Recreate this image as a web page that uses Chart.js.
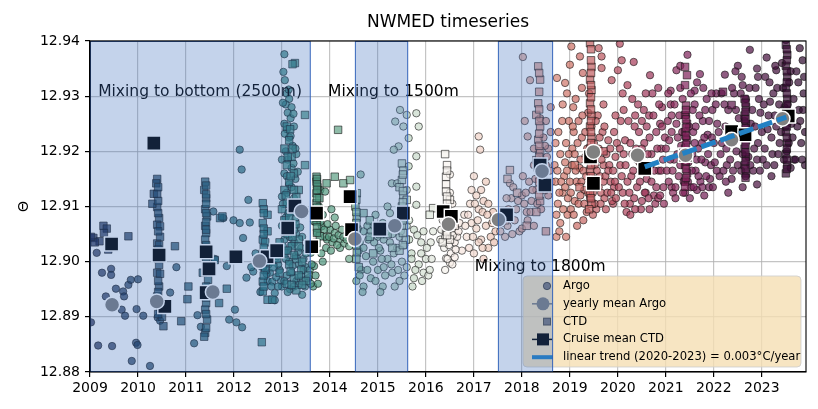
<!DOCTYPE html>
<html>
<head>
<meta charset="utf-8">
<script src="https://cdn.jsdelivr.net/npm/chart.js@4.4.1/dist/chart.umd.min.js"></script>
<style>
  html, body { margin: 0; padding: 0; background: #fff; }
  #chart { display: block; }
</style>
</head>
<body>
<canvas id="chart" width="818" height="409"></canvas>
<script>
// ---- data: [decimal year, potential temperature] ----
const argo2009_2012 = [
  [2009.02,12.889],[2009.14,12.9016],[2009.25,12.898],[2009.44,12.8987],[2009.44,12.8976],[2009.33,12.8937],
  [2009.54,12.8951],[2009.69,12.8946],[2009.8,12.8958],[2009.85,12.8967],[2010.0,12.8968],[2009.71,12.8937],
  [2009.66,12.8913],[2009.73,12.8902],[2009.97,12.8914],[2009.17,12.8848],[2009.46,12.8847],[2009.96,12.8853],
  [2009.99,12.8849],[2009.87,12.882],[2010.25,12.8811],[2010.11,12.8902],[2010.41,12.8899],[2010.8,12.899],
  [2010.67,12.8944],[2010.46,12.8893],[2011.24,12.8903],[2011.17,12.8852],[2011.31,12.8882],[2011.6,12.9005],
  [2011.85,12.8992],[2011.9,12.8895],[2012.02,12.8913],[2012.05,12.889],[2012.17,12.8881],[2011.57,12.9091],
  [2011.78,12.9079],[2011.99,12.9075],[2012.12,12.907],[2012.19,12.9043],[2012.12,12.9203],[2012.16,12.9167],
  [2012.3,12.9112],[2012.33,12.9071],[2012.4,12.8982],[2012.26,12.8971],[2012.36,12.899],[2012.45,12.9015],
  [2012.6,12.899],[2012.7,12.8965],[2012.55,12.8945],[2012.75,12.898],[2012.85,12.8943],[2012.8,12.8964],
  [2012.9,12.901],[2012.95,12.8985],[2012.98,12.8965],
  [2012.62,12.9005],[2012.72,12.8995],[2012.88,12.8972],[2012.78,12.8955],[2012.68,12.8978],[2012.92,12.8995]
];
const argo2013_2016 = [
  [2013.05,12.9376],[2013.03,12.9344],[2013.06,12.9329],[2013.1,12.9305],[2013.15,12.9295],[2013.08,12.9285],
  [2013.2,12.928],[2013.12,12.927],[2013.18,12.926],[2013.05,12.925],[2013.25,12.9245],[2013.1,12.924],
  [2013.15,12.9225],[2013.22,12.921],[2013.08,12.92],[2013.3,12.9195],[2013.12,12.9185],[2013.2,12.917],
  [2013.05,12.916],[2013.28,12.915],[2013.15,12.914],[2013.1,12.9125],[2013.25,12.9115],[2013.02,12.9105],
  [2013.18,12.9095],[2013.35,12.909],[2013.08,12.908],[2013.22,12.907],[2013.12,12.906],[2013.3,12.905],
  [2013.05,12.904],[2013.2,12.903],[2013.4,12.9025],[2013.1,12.902],[2013.28,12.901],[2013.45,12.9005],
  [2013.15,12.9],[2013.35,12.8995],[2013.5,12.899],[2013.2,12.898],[2013.4,12.8975],[2013.55,12.897],
  [2013.3,12.8965],[2013.0,12.8955],[2013.17,12.895],[2013.48,12.8955],[2012.85,12.893],[2013.42,12.894],
  [2013.65,12.8955],
  [2013.02,12.9288],[2013.14,12.9312],[2013.24,12.9268],[2013.06,12.9232],[2013.18,12.9228],[2013.28,12.9205],
  [2013.0,12.9185],[2013.24,12.9178],[2013.1,12.9155],[2013.33,12.9163],[2013.2,12.9135],[2013.0,12.9118],
  [2013.32,12.9105],[2013.13,12.9088],[2013.28,12.9078],[2013.0,12.9065],[2013.38,12.9062],[2013.16,12.9045],
  [2013.42,12.9045],[2013.26,12.9035],[2013.02,12.9028],[2013.34,12.9018],[2013.5,12.9015],[2013.08,12.9005],
  [2013.22,12.8992],[2013.45,12.8985],[2013.1,12.8975],[2013.58,12.8985],[2013.35,12.8958],[2013.25,12.8955],
  [2013.6,12.896],[2013.12,12.8945],[2012.92,12.8955],[2013.05,12.8965],
  [2013.8,12.913],[2013.9,12.9127],[2013.77,12.91],[2013.67,12.9073],[2013.73,12.9052],[2013.83,12.9064],
  [2014.0,12.9058],[2014.1,12.9052],[2014.21,12.904],[2013.94,12.904],[2013.6,12.9016],[2013.67,12.8992],
  [2014.21,12.9025],[2013.9,12.9045],[2014.05,12.9035],[2014.15,12.903],[2014.3,12.9033],[2014.4,12.9028],
  [2013.95,12.9068],[2013.85,12.9085],[2014.1,12.908],[2014.03,12.9095],[2013.75,12.896],[2013.85,12.9],
  [2014.45,12.9045],
  [2013.7,12.9085],[2013.8,12.9072],[2013.88,12.9058],[2013.98,12.9045],[2014.08,12.9042],[2014.18,12.9048],
  [2014.28,12.9045],[2014.35,12.904],[2014.25,12.9058],[2014.12,12.9065],[2013.92,12.9025],[2013.62,12.8995],
  [2013.7,12.8975],[2013.82,12.9015],[2014.02,12.902],[2014.4,12.9005],
  [2015.46,12.9275],[2015.6,12.9266],[2015.53,12.9245],[2015.36,12.9254],[2015.43,12.9209],[2015.64,12.9224],
  [2015.33,12.9203],[2015.29,12.9142],[2015.4,12.9142],[2015.64,12.9173],[2015.6,12.913],[2014.64,12.9158],
  [2015.2,12.91],[2015.1,12.907],[2014.9,12.9065],[2014.7,12.9055],[2014.8,12.904],[2015.0,12.9045],
  [2015.3,12.905],[2015.45,12.9045],[2015.55,12.908],[2014.6,12.902],[2014.75,12.901],[2014.9,12.9],
  [2015.05,12.902],[2015.2,12.9005],[2015.4,12.9025],[2015.5,12.9],[2014.65,12.8985],[2014.85,12.897],
  [2015.0,12.8985],[2015.15,12.8975],[2015.3,12.898],[2014.55,12.8965],[2014.7,12.8955],[2015.1,12.8955],
  [2015.45,12.8965],[2015.6,12.899],[2014.95,12.9085],[2015.25,12.9088],[2014.58,12.906],
  [2014.55,12.9045],[2014.62,12.9035],[2014.7,12.9025],[2014.78,12.9065],[2014.85,12.9055],[2014.92,12.9035],
  [2015.02,12.9025],[2015.08,12.9005],[2015.12,12.904],[2015.18,12.9055],[2015.25,12.9035],[2015.33,12.9015],
  [2015.38,12.906],[2015.48,12.9055],[2015.55,12.903],[2015.6,12.9065],[2014.62,12.8975],[2014.78,12.8985],
  [2014.95,12.8965],[2015.12,12.899],[2015.28,12.8995],[2015.42,12.8985],[2015.55,12.8975],[2014.68,12.8945],
  [2015.05,12.8945],[2015.35,12.8955],
  [2015.8,12.9269],[2015.85,12.9245],[2015.8,12.9191],[2015.8,12.9136],[2015.8,12.9103],[2015.75,12.9058],
  [2015.9,12.9035],[2015.7,12.9015],[2015.85,12.8995],[2016.0,12.9005],[2015.95,12.898],[2015.75,12.897],
  [2016.05,12.8975],[2015.65,12.904],[2016.1,12.9035],
  [2015.7,12.9005],[2015.78,12.8985],[2015.9,12.9015],[2016.02,12.9025],[2016.12,12.9005],[2015.82,12.9048],
  [2015.95,12.9055],[2016.15,12.9055],[2015.72,12.8955],[2015.92,12.8965],[2016.08,12.8985],[2015.65,12.9075]
];
const argo2016_2019 = [
  [2016.5,12.9158],[2016.42,12.9006],[2016.5,12.8998],[2016.4,12.8985],[2016.35,12.9075],[2016.45,12.905],
  [2016.55,12.906],[2016.6,12.9035],[2016.38,12.9025],[2016.52,12.9015],[2016.65,12.9045],[2016.7,12.907],
  [2016.3,12.904],[2016.58,12.9085],[2016.75,12.902],[2016.85,12.9045],[2016.95,12.907],[2017.05,12.906],
  [2017.15,12.904],[2017.25,12.9065],[2017.35,12.9045],[2016.9,12.9025],[2017.0,12.9015],[2017.1,12.9035],
  [2017.2,12.9005],[2017.3,12.9025],[2017.45,12.9055],[2016.8,12.9085],[2017.1,12.9095],[2017.2,12.911],
  [2017.05,12.912],[2017.0,12.9155],[2017.25,12.9145],[2017.1,12.9227],[2017.13,12.9203],[2017.4,12.909],
  [2016.92,12.9105],
  [2016.32,12.9058],[2016.4,12.9045],[2016.48,12.903],[2016.56,12.9048],[2016.62,12.9022],[2016.68,12.9055],
  [2016.45,12.9095],[2016.55,12.9105],[2016.5,12.9125],[2016.45,12.9005],[2016.55,12.8995],[2016.6,12.9008],
  [2016.82,12.9065],[2016.88,12.9085],[2016.98,12.9045],[2017.08,12.9075],[2017.18,12.909],[2017.28,12.9085],
  [2017.38,12.907],[2017.48,12.9075],[2017.18,12.9025],[2017.42,12.9035],[2017.02,12.9105],[2017.15,12.913],
  [2016.95,12.913],[2017.3,12.9105],
  [2018.02,12.9371],[2018.17,12.9329],[2018.06,12.9255],[2018.12,12.9227],[2017.75,12.9142],[2017.6,12.908],
  [2017.7,12.9065],[2017.85,12.9075],[2017.95,12.9055],[2018.1,12.909],[2018.2,12.911],[2018.3,12.913],
  [2018.0,12.912],[2018.45,12.9155],[2018.55,12.912],[2018.4,12.9095],[2017.65,12.9045],[2017.8,12.905],
  [2018.0,12.906],[2018.25,12.9065],[2018.5,12.9175],[2018.35,12.92],[2018.55,12.9205],[2018.6,12.9235],
  [2018.25,12.9175],[2018.45,12.9225],[2017.55,12.9055],[2018.15,12.9145],
  [2017.58,12.907],[2017.62,12.909],[2017.72,12.9095],[2017.78,12.9115],[2017.88,12.9095],[2017.92,12.911],
  [2018.05,12.9105],[2018.08,12.9125],[2018.12,12.9075],[2018.18,12.909],[2018.22,12.913],[2018.28,12.915],
  [2018.32,12.9105],[2018.42,12.9185],[2018.48,12.921],[2018.52,12.919],[2018.58,12.9165],[2018.62,12.9145],
  [2018.38,12.926],[2018.5,12.9255],[2018.6,12.928],[2018.25,12.9205],[2017.68,12.9115],[2017.82,12.9135],
  [2018.02,12.9155],
  [2019.03,12.939],[2019.0,12.9357],[2019.21,12.9372],[2019.6,12.9387],[2020.04,12.9395],[2019.66,12.9372],
  [2019.66,12.9351],[2019.27,12.9342],[2018.9,12.9324],[2018.73,12.9333],[2019.07,12.928],[2018.94,12.9305],
  [2020.0,12.9347],[2019.87,12.9329],
  [2018.7,12.9145],[2018.75,12.9105],[2018.8,12.907],[2018.85,12.9125],[2018.9,12.918],[2018.95,12.9085],
  [2019.0,12.9145],[2019.05,12.9205],[2019.1,12.911],[2019.15,12.9065],[2019.2,12.917],[2019.25,12.9225],
  [2019.3,12.913],[2019.35,12.909],[2019.4,12.9185],[2019.45,12.9245],[2019.5,12.915],[2019.55,12.9095],
  [2019.6,12.9205],[2019.65,12.9125],[2019.7,12.9175],[2019.75,12.9095],[2019.8,12.922],[2019.85,12.9145],
  [2019.9,12.9105],[2019.95,12.919],[2018.72,12.9045],[2018.8,12.9195],[2018.88,12.9155],[2019.02,12.9095],
  [2019.12,12.9165],[2019.22,12.912],[2019.32,12.919],[2019.42,12.9115],[2019.52,12.9175],[2019.62,12.9155],
  [2019.72,12.9115],[2019.82,12.9175],[2019.92,12.9135],[2019.08,12.9235],[2019.28,12.9075],[2019.48,12.9085],
  [2019.68,12.9235],[2019.88,12.911],[2018.98,12.9255],[2019.38,12.927],[2019.58,12.9265],[2018.78,12.9125],
  [2018.92,12.9045],[2019.18,12.9255],
  [2018.68,12.9175],[2018.7,12.9215],[2018.72,12.9085],[2018.74,12.9165],[2018.76,12.9235],[2018.78,12.9055],
  [2018.82,12.9145],[2018.84,12.9255],[2018.86,12.9095],[2018.9,12.9135],[2018.92,12.9215],[2018.94,12.9165],
  [2018.96,12.9115],[2018.98,12.9195],[2019.02,12.9125],[2019.04,12.9175],[2019.06,12.9245],[2019.08,12.9085],
  [2019.1,12.9195],[2019.14,12.9145],[2019.16,12.9215],[2019.18,12.9105],[2019.22,12.9185],[2019.24,12.9145],
  [2019.26,12.9265],[2019.28,12.9165],[2019.3,12.9105],[2019.32,12.9235],[2019.34,12.9155],[2019.36,12.9205],
  [2019.38,12.9125],[2019.48,12.9125],[2019.5,12.9215],[2019.52,12.9105],[2019.54,12.9255],[2019.56,12.9165],
  [2019.58,12.9195],[2019.6,12.9135],[2019.62,12.9225],[2019.64,12.9105],[2019.66,12.9185],[2019.7,12.9145],
  [2019.72,12.9245],[2019.74,12.9155],[2019.76,12.9195],[2019.78,12.9125],[2019.8,12.9165],[2019.84,12.9205],
  [2019.86,12.9125],[2019.9,12.9165],[2019.92,12.9235],[2019.94,12.9145],[2019.96,12.9115],[2019.98,12.9215],
  [2018.85,12.9285],[2019.12,12.9295],[2019.4,12.9305],[2019.7,12.9285],[2019.95,12.9265],[2019.25,12.9315]
];
const argo2020_2023 = [
  [2020.08,12.9365],[2020.33,12.9362],[2020.67,12.9338],
  [2020.05,12.9175],[2020.1,12.9125],[2020.15,12.922],[2020.2,12.9145],[2020.25,12.9105],[2020.3,12.9195],
  [2020.35,12.9245],[2020.4,12.9135],[2020.45,12.918],[2020.5,12.911],[2020.55,12.9215],[2020.6,12.915],
  [2020.65,12.9265],[2020.7,12.9195],[2020.75,12.912],[2020.8,12.9235],[2020.85,12.9165],[2020.9,12.9205],
  [2020.95,12.9135],[2020.12,12.9275],[2020.42,12.9285],[2020.72,12.9305],[2020.28,12.9155],[2020.58,12.9125],
  [2020.88,12.925],[2020.18,12.909],[2020.48,12.9095],[2020.78,12.9105],[2020.38,12.9205],[2020.68,12.9175],
  [2020.2,12.932],[2020.92,12.928],
  [2020.02,12.9135],[2020.04,12.9205],[2020.06,12.9255],[2020.08,12.9155],[2020.12,12.9195],[2020.14,12.9105],
  [2020.16,12.9175],[2020.22,12.9255],[2020.24,12.9125],[2020.26,12.9215],[2020.32,12.9165],[2020.34,12.9115],
  [2020.36,12.9265],[2020.4,12.9185],[2020.44,12.9235],[2020.46,12.9145],[2020.5,12.9205],[2020.52,12.9165],
  [2020.54,12.9275],[2020.56,12.9125],[2020.6,12.9245],[2020.62,12.9195],[2020.64,12.9115],[2020.66,12.9225],
  [2020.7,12.9145],[2020.74,12.9265],[2020.76,12.9165],[2020.8,12.9135],[2020.82,12.9205],[2020.84,12.9115],
  [2020.86,12.9285],[2020.9,12.9165],[2020.92,12.9245],[2020.94,12.9185],[2020.96,12.9105],[2020.98,12.9225],
  [2020.3,12.9295],[2020.58,12.9305],[2020.84,12.9315],[2020.1,12.9305],[2020.5,12.9255],[2020.26,12.9085],
  [2020.66,12.9095],[2020.88,12.912],[2020.36,12.9095],
  [2021.22,12.9347],[2021.3,12.9355],[2021.71,12.934],[2021.6,12.931],[2021.65,12.9325],[2022.23,12.9339],
  [2022.05,12.9305],[2021.45,12.9375],[2021.1,12.931],
  [2021.02,12.9165],[2021.07,12.922],[2021.12,12.9135],[2021.17,12.9185],[2021.22,12.925],[2021.27,12.9155],
  [2021.32,12.921],[2021.37,12.9145],[2021.42,12.9265],[2021.47,12.918],[2021.52,12.9135],[2021.57,12.9235],
  [2021.62,12.9165],[2021.67,12.9205],[2021.72,12.9145],[2021.77,12.9255],[2021.82,12.918],[2021.87,12.923],
  [2021.92,12.915],[2021.97,12.9275],[2021.1,12.9285],[2021.35,12.9295],[2021.6,12.9285],[2021.85,12.9295],
  [2021.15,12.9125],[2021.4,12.9125],[2021.65,12.913],[2021.9,12.9135],[2021.25,12.9225],[2021.55,12.9195],
  [2021.75,12.9215],
  [2021.0,12.9205],[2021.04,12.9255],[2021.06,12.9145],[2021.09,12.9185],[2021.12,12.9235],[2021.14,12.9165],
  [2021.18,12.9285],[2021.2,12.9135],[2021.24,12.9195],[2021.28,12.9265],[2021.3,12.9175],[2021.34,12.9235],
  [2021.36,12.9125],[2021.38,12.9195],[2021.46,12.9145],[2021.48,12.9245],[2021.5,12.9195],[2021.54,12.9165],
  [2021.56,12.9275],[2021.58,12.9135],[2021.62,12.9245],[2021.64,12.9185],[2021.68,12.9155],[2021.7,12.9265],
  [2021.74,12.9185],[2021.76,12.9135],[2021.8,12.9225],[2021.82,12.9275],[2021.84,12.9155],[2021.88,12.9195],
  [2021.9,12.9255],[2021.94,12.9175],[2021.96,12.9225],[2021.98,12.9135],[2021.05,12.9305],[2021.3,12.9315],
  [2021.52,12.9305],[2021.78,12.9315],[2021.95,12.9305],[2021.2,12.9115],[2021.5,12.9115],[2021.8,12.912],
  [2021.6,12.9215],[2021.42,12.9225],[2021.12,12.9265],
  [2022.75,12.9384],[2023.5,12.9402],[2023.79,12.9387],[2023.3,12.9347],[2022.6,12.932],[2022.5,12.9355],
  [2022.9,12.935],
  [2022.02,12.918],[2022.07,12.925],[2022.12,12.9155],[2022.17,12.9215],[2022.22,12.9285],[2022.27,12.9175],
  [2022.32,12.924],[2022.37,12.915],[2022.42,12.9305],[2022.47,12.92],[2022.52,12.926],[2022.57,12.9165],
  [2022.62,12.9225],[2022.67,12.9295],[2022.72,12.919],[2022.77,12.925],[2022.82,12.9165],[2022.87,12.9315],
  [2022.92,12.9215],[2022.97,12.927],[2023.02,12.9185],[2023.07,12.9335],[2023.12,12.924],[2023.17,12.929],
  [2023.22,12.9195],[2023.27,12.9265],[2023.32,12.9315],[2023.37,12.9215],[2023.42,12.936],[2023.47,12.928],
  [2023.52,12.92],[2023.57,12.9325],[2023.62,12.925],[2023.67,12.9185],[2023.72,12.9345],[2023.77,12.9275],
  [2023.82,12.9215],[2023.87,12.9305],[2023.9,12.9175],[2022.3,12.9125],[2022.6,12.9135],[2022.9,12.914],
  [2023.2,12.9155],[2023.6,12.917],[2023.85,12.9365],[2023.1,12.937],[2022.45,12.9345],
  [2022.0,12.9215],[2022.04,12.9285],[2022.06,12.9165],[2022.1,12.9235],[2022.14,12.9195],[2022.16,12.9305],
  [2022.2,12.9165],[2022.24,12.9245],[2022.26,12.9205],[2022.3,12.9275],[2022.34,12.9185],[2022.38,12.9315],
  [2022.4,12.9165],[2022.44,12.9235],[2022.46,12.9275],[2022.5,12.9175],[2022.54,12.9225],[2022.56,12.9305],
  [2022.6,12.9195],[2022.64,12.9255],[2022.66,12.9155],[2022.7,12.9235],[2022.74,12.9315],[2022.76,12.9175],
  [2022.8,12.9275],[2022.84,12.9205],[2022.86,12.9245],[2022.9,12.9185],[2022.94,12.9295],[2022.96,12.9165],
  [2023.0,12.9235],[2023.04,12.9285],[2023.06,12.9205],[2023.1,12.9175],[2023.14,12.9265],[2023.16,12.9325],
  [2023.2,12.9225],[2023.24,12.9305],[2023.26,12.9175],[2023.3,12.9245],[2023.34,12.9195],[2023.36,12.9285],
  [2023.4,12.9235],[2023.44,12.9315],[2023.46,12.9185],[2023.5,12.9245],[2023.54,12.9285],[2023.56,12.9215],
  [2023.6,12.9345],[2023.64,12.9225],[2023.66,12.9295],[2023.7,12.9185],[2023.74,12.9245],[2023.76,12.9325],
  [2023.8,12.9255],[2023.84,12.9185],[2023.86,12.9275],[2023.9,12.9235],[2023.88,12.9335],[2022.92,12.9335],
  [2022.58,12.9335],[2023.28,12.9355],[2022.25,12.9145]
];

const ctd2009_2012 = [
  [2009.07,12.9043],[2009.2,12.9037],[2009.28,12.9065],[2009.35,12.906],[2009.29,12.9052],[2009.38,12.9022],
  [2009.8,12.9046],[2009.1,12.9035],[2009.02,12.9045],[2009.5,12.9035],
  [2010.4,12.915],[2010.38,12.9142],[2010.33,12.9123],[2010.4,12.9123],[2010.4,12.9099],[2010.44,12.9079],
  [2010.4,12.9067],[2010.46,12.9064],[2010.4,12.9033],[2010.44,12.903],[2010.44,12.8994],[2010.4,12.898],
  [2010.46,12.8978],[2010.44,12.8955],[2010.4,12.8937],[2010.46,12.8913],[2010.5,12.89],[2010.53,12.8883],
  [2010.77,12.9028],[2010.9,12.8892],[2010.3,12.9105],[2010.42,12.9015],[2010.46,12.9045],
  [2010.42,12.9135],[2010.42,12.911],[2010.42,12.9088],[2010.42,12.9055],[2010.42,12.9022],[2010.42,12.9005],
  [2010.42,12.8965],[2010.42,12.8945],[2010.42,12.8925],[2010.42,12.8905],
  [2011.4,12.9145],[2011.38,12.913],[2011.42,12.9115],[2011.4,12.9095],[2011.44,12.9082],[2011.4,12.9065],
  [2011.42,12.9052],[2011.71,12.9079],[2011.76,12.9082],[2011.4,12.904],[2011.46,12.902],[2011.42,12.9],
  [2011.46,12.8967],[2011.4,12.8945],[2011.42,12.8925],[2011.4,12.8913],[2011.44,12.8895],[2011.4,12.8871],
  [2011.38,12.8864],[2011.69,12.8925],[2011.05,12.8955],[2011.03,12.8932],[2011.85,12.8951],[2011.6,12.9003],
  [2011.35,12.898],[2012.58,12.8854],
  [2011.42,12.9138],[2011.42,12.9122],[2011.42,12.9105],[2011.42,12.9088],[2011.42,12.9072],[2011.42,12.9058],
  [2011.42,12.903],[2011.42,12.901],[2011.42,12.8955],[2011.42,12.8935],[2011.42,12.8905],[2011.42,12.888],
  [2012.6,12.9106],[2012.62,12.9095],[2012.7,12.9085],[2012.6,12.907],[2012.6,12.904],[2012.65,12.9035],
  [2012.6,12.9015],[2012.6,12.8992],[2012.65,12.8985],[2012.6,12.8964],[2012.6,12.8946],[2012.7,12.8931],
  [2012.8,12.8931],[2012.75,12.9],[2012.82,12.899],[2012.95,12.898],[2012.9,12.9005],[2012.7,12.9055],
  [2012.62,12.9088],[2012.62,12.906],[2012.62,12.905],[2012.62,12.9025],[2012.62,12.9005],[2012.62,12.8975],
  [2012.62,12.8955]
];
const ctd2013_2016 = [
  [2013.27,12.936],[2013.22,12.9358],[2013.48,12.9266],[2013.1,12.9245],[2013.15,12.922],[2013.05,12.9205],
  [2013.2,12.919],[2013.1,12.9175],[2013.48,12.9175],[2013.25,12.916],[2013.15,12.9145],[2013.05,12.913],
  [2013.3,12.9118],[2013.1,12.9105],[2013.2,12.909],[2013.4,12.9085],[2013.05,12.9075],[2013.25,12.906],
  [2013.12,12.905],[2013.35,12.904],[2013.2,12.9028],[2013.05,12.9015],[2013.3,12.9005],[2013.15,12.8995],
  [2013.4,12.8985],[2013.25,12.897],[2013.1,12.896],[2013.45,12.8965],[2013.3,12.8948],[2013.55,12.8975],
  [2012.95,12.9035],[2013.0,12.9095],[2013.35,12.913],
  [2013.17,12.924],[2013.22,12.9205],[2013.12,12.919],[2013.18,12.9155],[2013.25,12.913],[2013.08,12.912],
  [2013.3,12.9098],[2013.15,12.908],[2013.28,12.9068],[2013.05,12.9055],[2013.22,12.9045],[2013.35,12.9028],
  [2013.12,12.902],[2013.25,12.9012],[2013.42,12.9],[2013.18,12.8982],[2013.35,12.8975],[2013.5,12.8965],
  [2013.2,12.8958],[2013.42,12.8958],
  [2013.72,12.9154],[2013.72,12.9145],[2013.74,12.9135],[2013.72,12.9124],[2013.72,12.9106],[2013.75,12.909],
  [2013.72,12.9073],[2013.79,12.9046],[2013.72,12.9034],[2014.17,12.9239],[2014.1,12.9154],[2014.28,12.9142],
  [2014.42,12.9148],[2013.93,12.9142],[2013.78,12.9115],
  [2013.73,12.915],[2013.73,12.914],[2013.73,12.913],[2013.73,12.9115],[2013.73,12.9098],[2013.73,12.908],
  [2013.73,12.9062],[2013.73,12.9052],
  [2014.56,12.9124],[2014.53,12.91],[2014.56,12.908],[2014.7,12.9088],[2014.83,12.9075],[2014.97,12.9058],
  [2014.5,12.904],[2014.56,12.9016],[2014.83,12.9045],[2015.05,12.905],[2014.6,12.899],[2014.9,12.9015],
  [2014.55,12.9112],[2014.55,12.909],[2014.55,12.907],[2014.55,12.9055],[2014.55,12.903],[2014.55,12.9005],
  [2015.5,12.9178],[2015.53,12.9165],[2015.5,12.9148],[2015.45,12.9135],[2015.53,12.912],[2015.6,12.9112],
  [2015.5,12.91],[2015.55,12.9085],[2015.5,12.9065],[2015.58,12.904],[2015.45,12.902],[2015.2,12.905],
  [2015.3,12.9025],
  [2015.52,12.9158],[2015.52,12.9128],[2015.52,12.9108],[2015.52,12.9092],[2015.52,12.9075],[2015.52,12.9052],
  [2015.52,12.903],
  [2016.4,12.9195],[2016.42,12.9154],[2016.42,12.914],[2016.42,12.9127],[2016.5,12.9112],[2016.42,12.9095],
  [2016.42,12.9082],[2016.5,12.907],[2016.42,12.9055],[2016.5,12.904],[2016.15,12.9097],[2016.08,12.9085],
  [2016.6,12.9065],[2016.35,12.9035],
  [2016.44,12.9175],[2016.44,12.9165],[2016.44,12.9118],[2016.44,12.9105],[2016.44,12.9075],[2016.44,12.9062],
  [2016.44,12.9048]
];
const ctd2017_2023 = [
  [2017.42,12.9076],
  [2018.34,12.9354],[2018.38,12.933],[2018.34,12.9287],[2018.3,12.9266],[2018.38,12.9245],[2018.34,12.9221],
  [2018.38,12.92],[2018.3,12.9184],[2017.75,12.9166],[2017.7,12.915],[2018.45,12.913],[2018.38,12.911],
  [2018.3,12.909],[2017.9,12.9125],[2018.1,12.9065],[2018.5,12.9055],[2017.65,12.9075],
  [2018.36,12.9342],[2018.36,12.9308],[2018.36,12.9276],[2018.36,12.9255],[2018.36,12.9232],[2018.36,12.921],
  [2018.36,12.919],[2018.36,12.9165],[2018.36,12.9145],[2018.36,12.912],
  [2019.42,12.9396],[2019.45,12.9353],[2019.42,12.933],[2019.45,12.9311],[2019.42,12.9287],[2019.45,12.9265],
  [2019.42,12.9245],[2019.45,12.9225],[2019.42,12.9205],[2019.45,12.9185],[2019.42,12.9165],[2019.45,12.9145],
  [2019.42,12.9124],[2019.45,12.9105],[2019.4,12.9095],[2019.2,12.9135],[2019.7,12.92],[2019.1,12.9175],
  [2019.44,12.9385],[2019.44,12.9365],[2019.44,12.9342],[2019.44,12.932],[2019.44,12.9298],[2019.44,12.9276],
  [2019.44,12.9255],[2019.44,12.9235],[2019.44,12.9215],[2019.44,12.9195],[2019.44,12.9175],[2019.44,12.9155],
  [2019.44,12.9135],[2019.44,12.9115],
  [2021.4,12.9353],[2021.44,12.9338],[2021.4,12.932],[2021.4,12.9266],[2021.44,12.925],[2021.4,12.9235],
  [2021.44,12.922],[2021.4,12.9205],[2021.44,12.919],[2021.4,12.9175],[2021.44,12.916],[2021.4,12.9145],
  [2021.4,12.9136],
  [2021.42,12.9258],[2021.42,12.9243],[2021.42,12.9228],[2021.42,12.9212],[2021.42,12.9198],[2021.42,12.9182],
  [2021.42,12.9168],[2021.42,12.9152],[2021.42,12.9283],[2021.42,12.9275],
  [2022.19,12.9308],[2022.37,12.9284],[2022.64,12.9295],[2022.67,12.928],[2022.64,12.9265],[2022.67,12.925],
  [2022.64,12.9235],[2022.67,12.922],[2022.64,12.9205],[2022.67,12.919],[2022.64,12.9175],[2022.67,12.916],
  [2022.37,12.9235],[2022.4,12.922],
  [2022.66,12.9288],[2022.66,12.9272],[2022.66,12.9258],[2022.66,12.9242],[2022.66,12.9228],[2022.66,12.9212],
  [2022.66,12.9198],[2022.66,12.9182],[2022.66,12.9168],[2022.66,12.9152],
  [2023.5,12.9393],[2023.53,12.9375],[2023.5,12.9355],[2023.53,12.9335],[2023.5,12.9315],[2023.53,12.9295],
  [2023.5,12.9275],[2023.53,12.9255],[2023.5,12.9235],[2023.53,12.9215],[2023.5,12.9195],[2023.53,12.9175],
  [2023.5,12.916],
  [2023.52,12.9385],[2023.52,12.9365],[2023.52,12.9345],[2023.52,12.9325],[2023.52,12.9305],[2023.52,12.9285],
  [2023.52,12.9265],[2023.52,12.9245],[2023.52,12.9225],[2023.52,12.9205],[2023.52,12.9185],[2023.52,12.9168]
];

const argoMeanYear  = [2009.46, 2010.39, 2011.56, 2012.53, 2013.41, 2014.52, 2015.35, 2016.47, 2017.51, 2018.42, 2019.49, 2020.41, 2021.41, 2022.37, 2023.43];
const argoMeanTheta = [12.8922, 12.8928, 12.8945, 12.9001, 12.9091, 12.9041, 12.9065, 12.9068, 12.9076, 12.9164, 12.9199, 12.9193, 12.9193, 12.9221, 12.9259];

const cruiseYear  = [2009.45, 2010.33, 2010.44, 2010.56, 2011.42, 2011.48, 2011.42, 2012.04, 2012.69, 2012.89, 2013.12, 2013.27, 2013.62, 2013.72,
                     2014.42, 2014.45, 2015.04, 2015.53, 2016.36, 2016.53, 2017.68, 2018.38, 2018.48, 2019.43, 2019.49, 2020.56, 2021.41, 2022.37, 2022.65, 2023.55];
const cruiseTheta = [12.9032, 12.9215, 12.9012, 12.8919, 12.9018, 12.8987, 12.8944, 12.9009, 12.9009, 12.9020, 12.9061, 12.9101, 12.9027, 12.9088,
                     12.9118, 12.9058, 12.9059, 12.9088, 12.9091, 12.9082, 12.9085, 12.9175, 12.9139, 12.9190, 12.9142, 12.9169, 12.9193, 12.9236, 12.9230, 12.9264];

const trendYear  = [2020.56, 2023.51];
const trendTheta = [12.9172, 12.9262];

const xTickYears = [2009, 2010, 2011, 2012, 2013, 2014, 2015, 2016, 2017, 2018, 2019, 2020, 2021, 2022, 2023];
const mixingPeriods = [[2009.0, 2013.6], [2014.52, 2015.63], [2017.5, 2018.65]];
const mixingLabels  = [
  { text: 'Mixing to bottom (2500m)', x: 2009.17, y: 12.93 },
  { text: 'Mixing to 1500m', x: 2013.96, y: 12.93 },
  { text: 'Mixing to 1800m', x: 2017.02, y: 12.8983 }
];
const legendLabels = ['Argo', 'yearly mean Argo', 'CTD', 'Cruise mean CTD', 'linear trend (2020-2023) = 0.003°C/year'];
const chartTitle = 'NWMED timeseries';

const X_MIN = 2009, X_MAX = 2023.92;
const FONT = 'DejaVu Sans';

// cmocean "curl"-like colormap over the time axis
const curlStops = [
  [0.00, [21, 29, 68]], [0.12, [24, 68, 92]], [0.25, [35, 117, 117]], [0.33, [80, 152, 125]],
  [0.42, [160, 196, 170]], [0.50, [250, 244, 240]], [0.58, [230, 180, 162]], [0.67, [205, 112, 100]],
  [0.75, [172, 62, 88]], [0.84, [122, 30, 88]], [0.92, [78, 16, 66]], [1.00, [44, 8, 44]]
];
function curl(year, alpha) {
  const t = Math.min(1, Math.max(0, (year - X_MIN) / (X_MAX - X_MIN)));
  let i = 0;
  while (i < curlStops.length - 2 && t > curlStops[i + 1][0]) i++;
  const [t0, c0] = curlStops[i], [t1, c1] = curlStops[i + 1];
  const f = (t - t0) / (t1 - t0);
  const c = c0.map((v, k) => Math.round(v + (c1[k] - v) * f));
  return `rgba(${c[0]},${c[1]},${c[2]},${alpha})`;
}

const toPts = arr => arr.map(([x, y]) => ({ x, y }));
const zip = (xs, ys) => xs.map((x, i) => ({ x, y: ys[i] }));

const argoPts = toPts([...argo2009_2012, ...argo2013_2016, ...argo2016_2019, ...argo2020_2023]);
const ctdPts = toPts([...ctd2009_2012, ...ctd2013_2016, ...ctd2017_2023]);

const PT_ALPHA = 0.7;
const SHADE_FILL = 'rgba(59,110,190,0.3)';
const SHADE_EDGE = 'rgba(45,95,185,0.9)';
const EDGE = 'rgba(20,20,20,0.6)';

const overlayPlugin = {
  id: 'overlay',
  afterDatasetsDraw(chart) {
    const { ctx, chartArea: a, scales: { x, y } } = chart;
    ctx.save();
    // title, centred over the axes
    ctx.fillStyle = '#000';
    ctx.font = `17px "${FONT}"`;
    ctx.textAlign = 'center';
    ctx.textBaseline = 'middle';
    ctx.fillText(chartTitle, (a.left + a.right) / 2, 23);

    // annotations
    ctx.font = `15.5px "${FONT}"`;
    ctx.textBaseline = 'alphabetic';
    ctx.textAlign = 'left';
    mixingLabels.forEach(l => ctx.fillText(l.text, x.getPixelForValue(l.x), y.getPixelForValue(l.y)));

    // legend (lower right)
    const w = 278, h = 91;
    const x0 = a.right - w - 5, y0 = a.bottom - h - 5;
    ctx.beginPath();
    ctx.roundRect(x0, y0, w, h, 4);
    ctx.fillStyle = 'rgba(245,222,179,0.8)';
    ctx.fill();
    ctx.strokeStyle = 'rgba(204,204,204,0.8)';
    ctx.lineWidth = 1;
    ctx.stroke();

    const rows = legendLabels.map((_, i) => y0 + 10 + i * 17.8);
    // Argo handle
    ctx.beginPath(); ctx.arc(x0 + 24, rows[0], 3.7, 0, Math.PI * 2);
    ctx.fillStyle = curl(2009, 0.55); ctx.fill(); ctx.strokeStyle = EDGE; ctx.stroke();
    // yearly mean Argo handle
    ctx.strokeStyle = '#808080'; ctx.lineWidth = 1.5;
    ctx.beginPath(); ctx.moveTo(x0 + 9, rows[1]); ctx.lineTo(x0 + 29, rows[1]); ctx.stroke();
    ctx.beginPath(); ctx.arc(x0 + 20, rows[1], 6.5, 0, Math.PI * 2);
    ctx.fillStyle = '#808080'; ctx.fill();
    // CTD handle
    ctx.fillStyle = curl(2009, 0.55); ctx.fillRect(x0 + 20.5, rows[2] - 3.5, 7, 7);
    ctx.strokeStyle = EDGE; ctx.lineWidth = 1; ctx.strokeRect(x0 + 20.5, rows[2] - 3.5, 7, 7);
    // Cruise mean CTD handle
    ctx.strokeStyle = '#000'; ctx.lineWidth = 1.5;
    ctx.beginPath(); ctx.moveTo(x0 + 9, rows[3]); ctx.lineTo(x0 + 29, rows[3]); ctx.stroke();
    ctx.fillStyle = '#000'; ctx.fillRect(x0 + 14, rows[3] - 6, 12, 12);
    // trend handle
    ctx.strokeStyle = '#2381c4'; ctx.lineWidth = 4;
    ctx.beginPath(); ctx.moveTo(x0 + 9, rows[4]); ctx.lineTo(x0 + 30, rows[4]); ctx.stroke();

    ctx.fillStyle = '#000';
    ctx.font = `11.6px "${FONT}"`;
    ctx.textBaseline = 'middle';
    legendLabels.forEach((t, i) => ctx.fillText(t, x0 + 40, rows[i]));
    ctx.restore();
  },
  afterDraw(chart) {
    const { ctx, chartArea: a, scales: { x } } = chart;
    ctx.save();
    mixingPeriods.forEach(([s, e]) => {
      const px0 = x.getPixelForValue(s), px1 = x.getPixelForValue(e);
      ctx.fillStyle = SHADE_FILL;
      ctx.fillRect(px0, a.top, px1 - px0, a.bottom - a.top);
      ctx.strokeStyle = SHADE_EDGE;
      ctx.lineWidth = 1;
      ctx.strokeRect(px0 + 0.5, a.top + 0.5, px1 - px0 - 1, a.bottom - a.top - 1);
    });
    // axes frame
    ctx.strokeStyle = '#000';
    ctx.lineWidth = 1.1;
    ctx.strokeRect(a.left, a.top, a.right - a.left, a.bottom - a.top);
    ctx.restore();
  }
};

new Chart(document.getElementById('chart'), {
  type: 'scatter',
  data: {
    datasets: [
      {
        label: 'linear trend (2020-2023) = 0.003°C/year',
        type: 'line',
        data: zip(trendYear, trendTheta),
        borderColor: '#2381c4',
        borderWidth: 5,
        borderDash: [15, 5],
        pointRadius: 0,
        fill: false,
        order: 0
      },
      {
        label: 'yearly mean Argo',
        data: zip(argoMeanYear, argoMeanTheta),
        pointStyle: 'circle',
        pointRadius: 7.5,
        backgroundColor: '#808080',
        borderColor: '#ffffff',
        borderWidth: 1.5,
        order: 1
      },
      {
        label: 'Cruise mean CTD',
        data: zip(cruiseYear, cruiseTheta),
        pointStyle: 'rect',
        pointRadius: 10,
        backgroundColor: '#000000',
        borderColor: '#ffffff',
        borderWidth: 1.5,
        order: 2
      },
      {
        label: 'CTD',
        data: ctdPts,
        pointStyle: 'rect',
        pointRadius: 5.3,
        backgroundColor: c => curl(c.raw ? c.raw.x : X_MIN, PT_ALPHA),
        borderColor: EDGE,
        borderWidth: 1,
        order: 3
      },
      {
        label: 'Argo',
        data: argoPts,
        pointStyle: 'circle',
        pointRadius: 3.7,
        backgroundColor: c => curl(c.raw ? c.raw.x : X_MIN, PT_ALPHA),
        borderColor: EDGE,
        borderWidth: 1,
        order: 4
      }
    ]
  },
  options: {
    responsive: false,
    animation: false,
    devicePixelRatio: 1,
    layout: { padding: { left: 0, right: 12, top: 41, bottom: 0 } },
    plugins: {
      legend: { display: false },
      tooltip: { enabled: false },
      title: { display: false }
    },
    scales: {
      x: {
        type: 'linear',
        min: X_MIN,
        max: X_MAX,
        afterFit: s => { s.height = 37; },
        afterBuildTicks: s => { s.ticks = xTickYears.map(v => ({ value: v })); },
        ticks: {
          autoSkip: false,
          maxRotation: 0,
          padding: 3,
          color: '#000',
          font: { family: FONT, size: 14 },
          callback: v => String(v)
        },
        grid: { color: 'rgba(176,176,176,0.75)', lineWidth: 1.2, tickLength: 5, tickColor: '#000' },
        border: { color: '#000', width: 1.1 }
      },
      y: {
        min: 12.88,
        max: 12.94,
        afterFit: s => { s.width = 90; },
        ticks: {
          stepSize: 0.01,
          padding: 5,
          color: '#000',
          font: { family: FONT, size: 14 },
          callback: v => v.toFixed(2)
        },
        grid: { color: 'rgba(176,176,176,0.75)', lineWidth: 1.2, tickLength: 5, tickColor: '#000' },
        border: { color: '#000', width: 1.1 },
        title: {
          display: true,
          text: 'Θ',
          color: '#000',
          font: { family: FONT, size: 14 },
          padding: { top: 16, bottom: 0 }
        }
      }
    }
  },
  plugins: [overlayPlugin]
});
</script>
</body>
</html>
